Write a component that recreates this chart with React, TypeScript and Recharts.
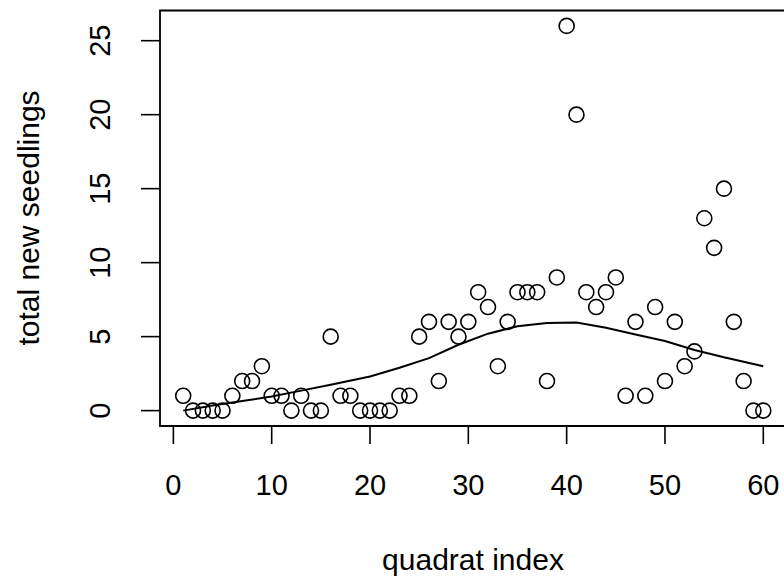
import React from 'react';
import { ScatterChart, Scatter, XAxis, YAxis, ReferenceArea } from 'recharts';

// quadrat index 1..60 and total new seedlings per quadrat
const quadrats = [
  1, 2, 3, 4, 5, 6, 7, 8, 9, 10, 11, 12, 13, 14, 15, 16, 17, 18, 19, 20,
  21, 22, 23, 24, 25, 26, 27, 28, 29, 30, 31, 32, 33, 34, 35, 36, 37, 38, 39, 40,
  41, 42, 43, 44, 45, 46, 47, 48, 49, 50, 51, 52, 53, 54, 55, 56, 57, 58, 59, 60,
];
const seedlings = [
  1, 0, 0, 0, 0, 1, 2, 2, 3, 1, 1, 0, 1, 0, 0, 5, 1, 1, 0, 0,
  0, 0, 1, 1, 5, 6, 2, 6, 5, 6, 8, 7, 3, 6, 8, 8, 8, 2, 9, 26,
  20, 8, 7, 8, 9, 1, 6, 1, 7, 2, 6, 3, 4, 13, 11, 15, 6, 2, 0, 0,
];

// smoothed trend
const smoothX = [1, 4, 7, 10, 13, 16, 20, 23, 26, 29, 32, 35, 38, 41, 44, 47, 50, 53, 56, 60];
const smoothY = [0, 0.35, 0.65, 0.95, 1.35, 1.75, 2.3, 2.9, 3.55, 4.45, 5.2, 5.7, 5.92, 5.95, 5.6, 5.15, 4.7, 4.1, 3.6, 3.0];

const xTicks = [0, 10, 20, 30, 40, 50, 60];
const yTicks = [0, 5, 10, 15, 20, 25];

const points = quadrats.map((x, i) => ({ x, y: seedlings[i] }));
const smooth = smoothX.map((x, i) => ({ x, y: smoothY[i] }));

const FONT = 'Liberation Sans, Arial, Helvetica, sans-serif';
const FS = 29;

const XTick = (props: any) => (
  <text x={props.x} y={495} textAnchor="middle" fontFamily={FONT} fontSize={FS} fill="#000">
    {props.payload.value}
  </text>
);

const YTick = (props: any) => (
  <text transform={`translate(110, ${props.y}) rotate(-90)`} textAnchor="middle" fontFamily={FONT} fontSize={FS} fill="#000">
    {props.payload.value}
  </text>
);

const OpenCircle = (props: any) => (
  <circle cx={props.cx} cy={props.cy} r={7.5} fill="none" stroke="#000" strokeWidth={1.6} />
);

export default function App() {
  return (
    <div style={{ position: 'absolute', left: 0, top: 0, width: 784, height: 584, overflow: 'hidden', background: '#fff' }}>
      <ScatterChart width={800} height={584} margin={{ top: 10.5, right: 13.5, bottom: 0, left: 0 }}>
        <XAxis
          type="number"
          dataKey="x"
          domain={[-1.36, 62.36]}
          ticks={xTicks}
          allowDataOverflow
          height={158}
          tickSize={18}
          axisLine={false}
          tickLine={{ stroke: '#000', strokeWidth: 1.6 }}
          tick={XTick}
          interval={0}
        />
        <YAxis
          type="number"
          dataKey="y"
          domain={[-1.04, 27.04]}
          ticks={yTicks}
          allowDataOverflow
          width={160}
          tickSize={19}
          axisLine={false}
          tickLine={{ stroke: '#000', strokeWidth: 1.6 }}
          tick={YTick}
          interval={0}
        />
        <ReferenceArea x1={-1.36} x2={62.36} y1={-1.04} y2={27.04} fill="none" fillOpacity={0} stroke="#000" strokeWidth={1.8} />
        <Scatter data={points} shape={OpenCircle} isAnimationActive={false} />
        <Scatter
          data={smooth}
          line={{ stroke: '#000', strokeWidth: 2 }}
          lineType="joint"
          shape={() => <g />}
          isAnimationActive={false}
        />
        <text x={473} y={570} textAnchor="middle" fontFamily={FONT} fontSize={30} fill="#000">
          quadrat index
        </text>
        <text transform="translate(38.5, 218) rotate(-90)" textAnchor="middle" fontFamily={FONT} fontSize={30} fill="#000">
          total new seedlings
        </text>
      </ScatterChart>
    </div>
  );
}
